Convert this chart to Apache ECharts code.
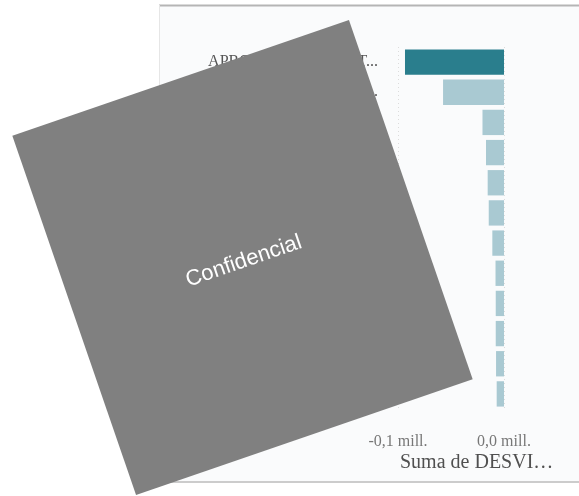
<!DOCTYPE html>
<html>
<head>
<meta charset="utf-8">
<script src="https://cdn.jsdelivr.net/npm/echarts@6/dist/echarts.min.js"></script>
<style>
  html, body { margin: 0; padding: 0; background: #ffffff; }
  #chart { width: 579px; height: 496px; }
</style>
</head>
<body>
<div id="chart"></div>
<script>
// Categories (top to bottom) and summed deviation per category
const categories = [
  'APROVISIONAMIENTOS Y SERVICIOS EXTERIORES',
  'ARRENDAMIENTOS Y CÁNONES DE INSTALACIONES',
  'SUMINISTROS Y MATERIALES DE OFICINA',
  'REPARACIONES Y CONSERVACIÓN DE EQUIPOS',
  'SERVICIOS PROFESIONALES INDEPENDIENTES',
  'PRIMAS DE SEGUROS Y COBERTURAS',
  'TRANSPORTES Y DESPLAZAMIENTOS',
  'PUBLICIDAD, PROPAGANDA Y RELACIONES PÚBLICAS',
  'SERVICIOS BANCARIOS Y SIMILARES',
  'TRIBUTOS Y TASAS MUNICIPALES',
  'FORMACIÓN Y DESARROLLO DEL PERSONAL',
  'OTROS SERVICIOS Y GASTOS DIVERSOS'
];
const desviacion = [-93400, -57500, -20300, -17000, -15400, -14400, -11000, -8000, -7800, -7800, -7500, -6900];
const axisTitle = 'Suma de DESVI…';
const watermark = 'Confidencial';

const chart = echarts.init(document.getElementById('chart'), null, { renderer: 'canvas' });

const fmtMill = v => (v / 1e6).toFixed(1).replace('.', ',').replace('-0,0', '0,0') + ' mill.';

chart.setOption({
  animation: false,
  backgroundColor: '#ffffff',
  grid: { left: 398, right: 75, top: 47, bottom: 87, containLabel: false },
  xAxis: {
    type: 'value',
    min: -100000,
    max: 0,
    interval: 100000,
    axisLine: { show: false },
    axisTick: { show: false },
    splitLine: { show: true, lineStyle: { color: '#dcdcdc', type: [1, 3], width: 1 } },
    axisLabel: {
      margin: 25,
      color: '#777777',
      fontFamily: 'Liberation Serif',
      fontSize: 16,
      formatter: fmtMill
    }
  },
  yAxis: {
    type: 'category',
    data: categories,
    inverse: true,
    axisLine: { show: false },
    axisTick: { show: false },
    splitLine: { show: false },
    axisLabel: {
      margin: 20,
      color: '#555555',
      fontFamily: 'Liberation Serif',
      fontSize: 16,
      width: 176,
      overflow: 'truncate',
      ellipsis: '...'
    }
  },
  series: [{
    type: 'bar',
    data: desviacion,
    barCategoryGap: '16%',
    itemStyle: {
      color: p => (p.value <= -80000 ? '#2a7e8d' : '#a9c9d2')
    }
  }],
  graphic: [
    // visual panel background and borders
    { type: 'rect', z: -10, shape: { x: 159, y: 5, width: 440, height: 477 },
      style: { fill: '#fafbfc' } },
    { type: 'line', z: -9, shape: { x1: 159, y1: 5.5, x2: 579, y2: 5.5 },
      style: { stroke: '#b5b5b5', lineWidth: 2 } },
    { type: 'line', z: -9, shape: { x1: 159.5, y1: 5, x2: 159.5, y2: 482 },
      style: { stroke: '#e6e6e6', lineWidth: 1 } },
    { type: 'line', z: -9, shape: { x1: 159, y1: 482, x2: 579, y2: 482 },
      style: { stroke: '#cccccc', lineWidth: 2 } },
    // axis title
    { type: 'text', z: 5, left: 400, top: 453,
      style: { text: axisTitle, fill: '#505050', font: '20px "Liberation Serif"' } },
    // watermark card
    { type: 'group', z: 100, x: 242.5, y: 257.5, rotation: 19 * Math.PI / 180,
      children: [
        { type: 'rect', z: 100, shape: { x: -178, y: -190, width: 356, height: 380 },
          style: { fill: '#808080' } },
        { type: 'text', z: 101, x: 0, y: 4,
          style: { text: watermark, fill: '#ffffff', font: '22px "Liberation Sans"',
                   textAlign: 'center', textVerticalAlign: 'middle' } }
      ] }
  ]
});
</script>
</body>
</html>
